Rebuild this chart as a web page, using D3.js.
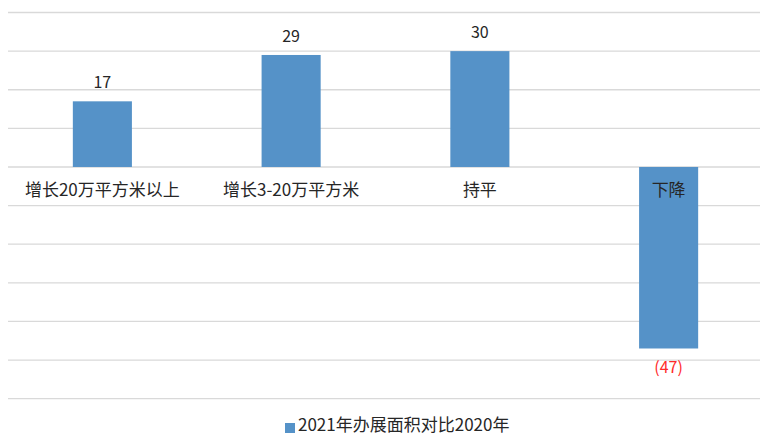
<!DOCTYPE html>
<html>
<head>
<meta charset="utf-8">
<script src="https://cdn.jsdelivr.net/npm/d3@7"></script>
<style>
  body { margin: 0; background: #fff; }
  text { font-family: "Noto Sans CJK SC", "Noto Sans", sans-serif; }
</style>
</head>
<body>
<svg id="chart"></svg>
<script>
var categories = ["增长20万平方米以上", "增长3-20万平方米", "持平", "下降"];
var values = [17, 29, 30, -47];
var valueLabels = ["17", "29", "30", "(47)"];
var gridTicks = [40, 30, 20, 10, 0, -10, -20, -30, -40, -50, -60];
var seriesName = "2021年办展面积对比2020年";

var width = 760, height = 435;
var barColor = "#5592c8";

var svg = d3.select("#chart")
    .attr("width", width)
    .attr("height", height);

var x = d3.scaleBand()
    .domain(categories)
    .range([8, 763])
    .paddingInner(0.687)
    .paddingOuter(0.3435);

var y = d3.scaleLinear()
    .domain([-60, 40])
    .range([398.7, 12.5]);

// gridlines
svg.append("g")
    .selectAll("line")
    .data(gridTicks)
    .enter()
    .append("line")
    .attr("x1", 8)
    .attr("x2", width)
    .attr("y1", function(d) { return y(d); })
    .attr("y2", function(d) { return y(d); })
    .attr("stroke", "#d9d9d9")
    .attr("stroke-width", 1.3);

// bars
svg.append("g")
    .selectAll("rect")
    .data(values)
    .enter()
    .append("rect")
    .attr("x", function(d, i) { return x(categories[i]); })
    .attr("width", x.bandwidth())
    .attr("y", function(d) { return y(Math.max(0, d)); })
    .attr("height", function(d) { return Math.abs(y(d) - y(0)); })
    .attr("fill", barColor);

// value labels
svg.append("g")
    .selectAll("text")
    .data(values)
    .enter()
    .append("text")
    .text(function(d, i) { return valueLabels[i]; })
    .attr("x", function(d, i) { return x(categories[i]) + x.bandwidth() / 2; })
    .attr("y", function(d) { return d >= 0 ? y(d) - 13 : y(d) + 25; })
    .attr("text-anchor", "middle")
    .attr("font-size", "16px")
    .attr("fill", function(d) { return d >= 0 ? "#262626" : "#ff2a2a"; });

// category labels
svg.append("g")
    .selectAll("text")
    .data(categories)
    .enter()
    .append("text")
    .text(function(d) { return d; })
    .attr("x", function(d) { return x(d) + x.bandwidth() / 2; })
    .attr("y", y(0) + 29)
    .attr("text-anchor", "middle")
    .attr("font-size", "17px")
    .attr("fill", "#262626");

// legend
var legend = svg.append("g");
legend.append("rect")
    .attr("x", 285)
    .attr("y", 423)
    .attr("width", 10)
    .attr("height", 10)
    .attr("fill", barColor);
legend.append("text")
    .text(seriesName)
    .attr("x", 298)
    .attr("y", 431)
    .attr("font-size", "17px")
    .attr("fill", "#262626");
</script>
</body>
</html>
